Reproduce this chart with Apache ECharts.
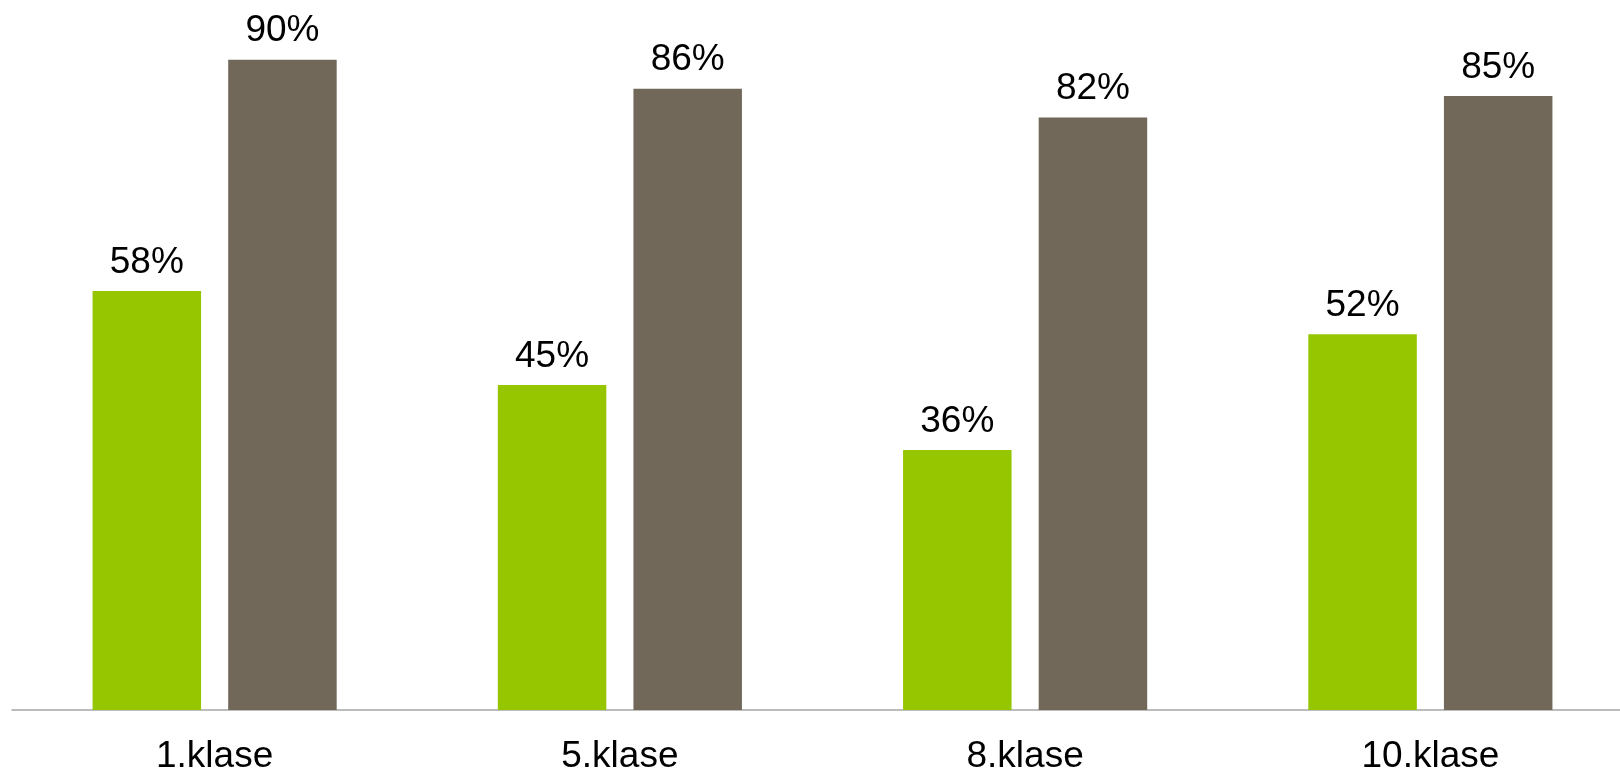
<!DOCTYPE html>
<html>
<head>
<meta charset="utf-8">
<script src="https://cdn.jsdelivr.net/npm/echarts@6/dist/echarts.min.js"></script>
<style>
html,body{margin:0;padding:0;background:#fff;}
#chart{width:1620px;height:772px;}
</style>
</head>
<body>
<div id="chart"></div>
<script>
const categories = ['1.klase', '5.klase', '8.klase', '10.klase'];
const seriesGreen = [58, 45, 36, 52];
const seriesBrown = [90, 86, 82, 85];

const chart = echarts.init(document.getElementById('chart'), null, {renderer: 'canvas'});
const labelStyle = {
  show: true,
  position: 'top',
  distance: 10,
  formatter: '{c}%',
  color: '#000',
  fontFamily: '"Liberation Sans", Arial, sans-serif',
  fontSize: 37
};
chart.setOption({
  animation: false,
  grid: {left: 12, top: 2, width: 1621, height: 708, containLabel: false, outerBoundsMode: 'none'},
  xAxis: {
    type: 'category',
    data: categories,
    axisLine: {show: true, lineStyle: {color: '#a6a6a6', width: 1.5}},
    axisTick: {show: false},
    axisLabel: {
      color: '#000',
      fontFamily: '"Liberation Sans", Arial, sans-serif',
      fontSize: 37,
      margin: 28
    }
  },
  yAxis: {
    type: 'value',
    min: 0,
    max: 98,
    show: false,
    splitLine: {show: false}
  },
  series: [
    {
      name: 'Sērija 1',
      type: 'bar',
      data: seriesGreen,
      barWidth: 108.5,
      barGap: '25%',
      itemStyle: {color: '#95c600'},
      label: labelStyle
    },
    {
      name: 'Sērija 2',
      type: 'bar',
      data: seriesBrown,
      barWidth: 108.5,
      barGap: '25%',
      itemStyle: {color: '#71685a'},
      label: labelStyle
    }
  ]
});
</script>
</body>
</html>
